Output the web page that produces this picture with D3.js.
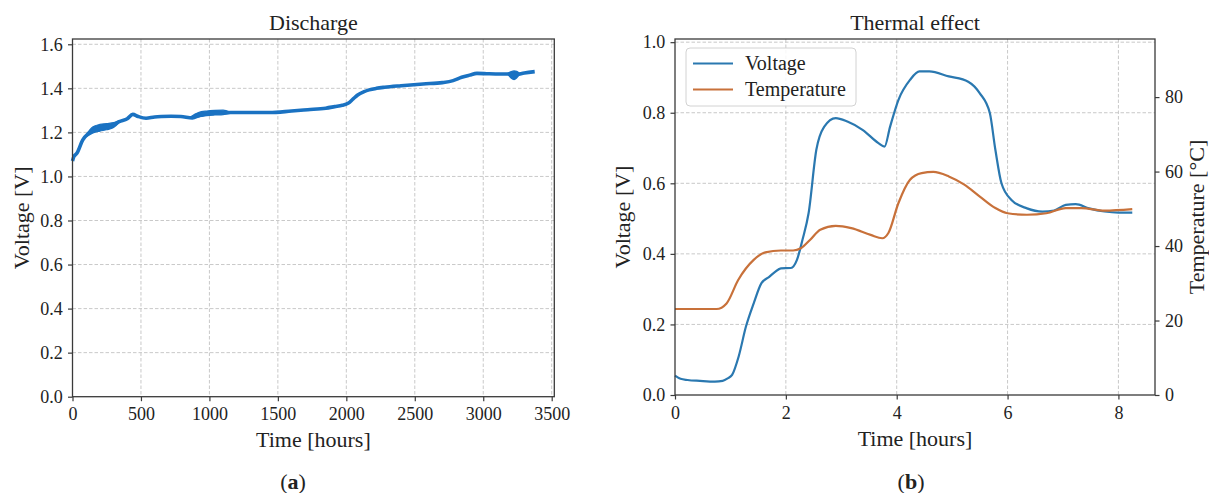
<!DOCTYPE html>
<html>
<head>
<meta charset="utf-8">
<script src="https://cdn.jsdelivr.net/npm/d3@7"></script>
<style>
  html, body { margin: 0; padding: 0; background: #fff; }
  svg { display: block; }
  text { font-family: "Liberation Serif", "DejaVu Serif", serif; fill: #222; }
</style>
</head>
<body>
<svg id="chart" width="1209" height="493"></svg>
<script>
// ---------- DATA ----------
// (a) Discharge
const dischargeTime    = [0, 10, 33, 74, 117, 160, 201, 257, 300, 341, 400, 440, 480, 537, 600, 648, 720, 791, 875, 930, 988, 1060, 1156, 1300, 1437, 1600, 1718, 1850, 1915, 1970, 2013, 2050, 2083, 2130, 2167, 2220, 2280, 2400, 2561, 2701, 2780, 2842, 2900, 2954, 3040, 3123, 3200, 3235, 3300, 3376];
const dischargeVoltage = [1.07, 1.09, 1.106, 1.165, 1.196, 1.21, 1.218, 1.226, 1.235, 1.249, 1.262, 1.282, 1.272, 1.264, 1.27, 1.272, 1.273, 1.272, 1.265, 1.278, 1.287, 1.288, 1.29, 1.29, 1.29, 1.297, 1.303, 1.31, 1.317, 1.323, 1.332, 1.352, 1.37, 1.385, 1.393, 1.4, 1.405, 1.412, 1.42, 1.426, 1.435, 1.45, 1.46, 1.468, 1.466, 1.465, 1.465, 1.462, 1.47, 1.476];
// noisy envelopes of the discharge trace
const noise1T  = [100, 150, 200, 250, 300, 340];
const noise1Lo = [1.18, 1.198, 1.206, 1.212, 1.222, 1.245];
const noise1Hi = [1.19, 1.226, 1.236, 1.24, 1.244, 1.252];
const noise2T  = [860, 920, 980, 1040, 1100, 1150];
const noise2Lo = [1.265, 1.27, 1.276, 1.279, 1.281, 1.286];
const noise2Hi = [1.27, 1.29, 1.297, 1.3, 1.301, 1.292];
const noise3T  = [3180, 3205, 3225, 3245, 3265];
const noise3Lo = [1.463, 1.446, 1.44, 1.448, 1.463];
const noise3Hi = [1.468, 1.476, 1.479, 1.477, 1.469];

// (b) Thermal effect
const thermalTime  = [0, 0.1, 0.225, 0.45, 0.72, 0.86, 0.95, 1.03, 1.15, 1.28, 1.42, 1.56, 1.7, 1.8, 1.91, 2.09, 2.2, 2.3, 2.41, 2.55, 2.69, 2.9, 3.11, 3.39, 3.67, 3.78, 3.88, 4.03, 4.24, 4.41, 4.59, 4.94, 5.29, 5.5, 5.68, 5.78, 5.89, 6.07, 6.35, 6.63, 6.84, 7.05, 7.23, 7.47, 7.75, 8.0, 8.25];
const voltageB     = [0.055, 0.046, 0.0425, 0.04, 0.038, 0.04, 0.047, 0.057, 0.11, 0.194, 0.26, 0.317, 0.335, 0.348, 0.359, 0.36, 0.383, 0.44, 0.515, 0.695, 0.76, 0.785, 0.775, 0.751, 0.714, 0.704, 0.76, 0.836, 0.893, 0.917, 0.917, 0.903, 0.888, 0.855, 0.799, 0.695, 0.6, 0.553, 0.529, 0.52, 0.523, 0.539, 0.541, 0.529, 0.52, 0.517, 0.517];
const tempTime     = [0, 0.4, 0.75, 0.93, 1.14, 1.42, 1.63, 1.91, 2.13, 2.27, 2.44, 2.62, 2.9, 3.18, 3.53, 3.74, 3.85, 4.03, 4.24, 4.45, 4.66, 4.94, 5.22, 5.5, 5.78, 6.0, 6.35, 6.7, 7.05, 7.33, 7.75, 8.25];
const temperature  = [23.1, 23.1, 23.1, 24.6, 30.9, 36.3, 38.3, 38.8, 38.8, 39.4, 41.7, 44.4, 45.4, 44.8, 43.0, 42.1, 43.5, 51.5, 57.8, 59.6, 59.9, 58.7, 56.5, 53.3, 50.2, 48.8, 48.4, 48.8, 50.2, 50.2, 49.5, 49.9];

const xTicksA = [0, 500, 1000, 1500, 2000, 2500, 3000, 3500];
const yTicksA = [0, 0.2, 0.4, 0.6, 0.8, 1.0, 1.2, 1.4, 1.6];
const xTicksB = [0, 2, 4, 6, 8];
const yTicksB = [0, 0.2, 0.4, 0.6, 0.8, 1.0];
const tTicksB = [0, 20, 40, 60, 80];
const seriesNames = ["Voltage", "Temperature"];

// ---------- DRAW ----------
const SERIF = '"Liberation Serif", "DejaVu Serif", serif';
const svg = d3.select("#chart");
const FONT_TICK = 18, FONT_LABEL = 22;
const frameColor = "#3a3a3a", gridColor = "#c9c9c9";
const blueA = "#1a72c2", blueB = "#2a78b0", orangeB = "#c8713a";

function panel(cfg) {
  const g = svg.append("g");
  const x = d3.scaleLinear().domain(cfg.xDomain).range([cfg.left, cfg.right]);
  const y = d3.scaleLinear().domain(cfg.yDomain).range([cfg.bottom, cfg.top]);
  g.append("g").selectAll("line").data(cfg.xTicks.filter(d => d > 0)).join("line")
    .attr("x1", d => x(d)).attr("x2", d => x(d)).attr("y1", cfg.top).attr("y2", cfg.bottom)
    .attr("stroke", gridColor).attr("stroke-width", 1).attr("stroke-dasharray", "3.5,2");
  g.append("g").selectAll("line").data(cfg.yTicks.filter(d => d > 0)).join("line")
    .attr("x1", cfg.left).attr("x2", cfg.right).attr("y1", d => y(d)).attr("y2", d => y(d))
    .attr("stroke", gridColor).attr("stroke-width", 1).attr("stroke-dasharray", "3.5,2");
  return { g, x, y };
}

function styleAxis(sel) {
  sel.attr("font-family", SERIF).attr("font-size", FONT_TICK);
  sel.select(".domain").remove();
  sel.selectAll(".tick line").attr("stroke", frameColor).attr("stroke-width", 1.2);
  sel.selectAll(".tick text").style("font-family", SERIF)
    .style("font-size", FONT_TICK + "px").attr("fill", "#222");
}

// ---- Panel (a)
const A = { left: 72.5, right: 554.3, top: 39, bottom: 396.7, xDomain: [0, 3519], yDomain: [0, 1.624], xTicks: xTicksA, yTicks: yTicksA };
const pa = panel(A);

const area = d3.area().x(d => pa.x(d[0])).y0(d => pa.y(d[1])).y1(d => pa.y(d[2])).curve(d3.curveMonotoneX);
[[noise1T, noise1Lo, noise1Hi], [noise2T, noise2Lo, noise2Hi], [noise3T, noise3Lo, noise3Hi]].forEach(([t, lo, hi]) => {
  pa.g.append("path").datum(t.map((d, i) => [d, lo[i], hi[i]]))
    .attr("d", area).attr("fill", blueA).attr("stroke", blueA).attr("stroke-width", 1.2);
});
pa.g.append("path")
  .datum(dischargeTime.map((d, i) => [d, dischargeVoltage[i]]))
  .attr("d", d3.line().x(d => pa.x(d[0])).y(d => pa.y(d[1])).curve(d3.curveMonotoneX))
  .attr("fill", "none").attr("stroke", blueA).attr("stroke-width", 3.6).attr("stroke-linejoin", "round");

pa.g.append("rect").attr("x", A.left).attr("y", A.top).attr("width", A.right - A.left).attr("height", A.bottom - A.top)
  .attr("fill", "none").attr("stroke", frameColor).attr("stroke-width", 1.3);

pa.g.append("g").attr("transform", `translate(0,${A.bottom})`)
  .call(d3.axisBottom(pa.x).tickValues(xTicksA).tickFormat(d3.format("d")).tickSize(4.5).tickPadding(6.5)).call(styleAxis);
pa.g.append("g").attr("transform", `translate(${A.left},0)`)
  .call(d3.axisLeft(pa.y).tickValues(yTicksA).tickFormat(d3.format(".1f")).tickSize(4.5).tickPadding(5.3)).call(styleAxis);

svg.append("text").attr("x", (A.left + A.right) / 2).attr("y", 30).attr("text-anchor", "middle")
  .style("font-size", FONT_LABEL + "px").text("Discharge");
svg.append("text").attr("x", (A.left + A.right) / 2).attr("y", 447).attr("text-anchor", "middle")
  .style("font-size", FONT_LABEL + "px").text("Time [hours]");
svg.append("text").attr("transform", `translate(29,${(A.top + A.bottom) / 2}) rotate(-90)`).attr("text-anchor", "middle")
  .style("font-size", FONT_LABEL + "px").text("Voltage [V]");

// ---- Panel (b)
const B = { left: 675, right: 1155, top: 39, bottom: 395, xDomain: [0, 8.66], yDomain: [0, 1.009], xTicks: xTicksB, yTicks: yTicksB };
const pb = panel(B);
const yT = d3.scaleLinear().domain([0, 95.6]).range([B.bottom, B.top]);

pb.g.append("path")
  .datum(thermalTime.map((d, i) => [d, voltageB[i]]))
  .attr("d", d3.line().x(d => pb.x(d[0])).y(d => pb.y(d[1])).curve(d3.curveMonotoneX))
  .attr("fill", "none").attr("stroke", blueB).attr("stroke-width", 2.2);
pb.g.append("path")
  .datum(tempTime.map((d, i) => [d, temperature[i]]))
  .attr("d", d3.line().x(d => pb.x(d[0])).y(d => yT(d[1])).curve(d3.curveMonotoneX))
  .attr("fill", "none").attr("stroke", orangeB).attr("stroke-width", 2.2);

pb.g.append("rect").attr("x", B.left).attr("y", B.top).attr("width", B.right - B.left).attr("height", B.bottom - B.top)
  .attr("fill", "none").attr("stroke", frameColor).attr("stroke-width", 1.3);

pb.g.append("g").attr("transform", `translate(0,${B.bottom})`)
  .call(d3.axisBottom(pb.x).tickValues(xTicksB).tickFormat(d3.format("d")).tickSize(4.5).tickPadding(6.5)).call(styleAxis);
pb.g.append("g").attr("transform", `translate(${B.left},0)`)
  .call(d3.axisLeft(pb.y).tickValues(yTicksB).tickFormat(d3.format(".1f")).tickSize(4.5).tickPadding(5.3)).call(styleAxis);
pb.g.append("g").attr("transform", `translate(${B.right},0)`)
  .call(d3.axisRight(yT).tickValues(tTicksB).tickFormat(d3.format("d")).tickSize(4.5).tickPadding(5.5)).call(styleAxis);

// legend
const lg = pb.g.append("g");
lg.append("rect").attr("x", 686).attr("y", 48).attr("width", 170).attr("height", 58).attr("rx", 4)
  .attr("fill", "#fff").attr("fill-opacity", 0.85).attr("stroke", "#d2d2d2").attr("stroke-width", 1);
[blueB, orangeB].forEach((c, i) => {
  const yy = 63.5 + i * 26;
  lg.append("line").attr("x1", 693).attr("x2", 733).attr("y1", yy).attr("y2", yy)
    .attr("stroke", c).attr("stroke-width", 2.2);
  lg.append("text").attr("x", 745).attr("y", yy + 6).style("font-size", "20px").text(seriesNames[i]);
});

svg.append("text").attr("x", (B.left + B.right) / 2).attr("y", 30).attr("text-anchor", "middle")
  .style("font-size", FONT_LABEL + "px").text("Thermal effect");
svg.append("text").attr("x", (B.left + B.right) / 2).attr("y", 446).attr("text-anchor", "middle")
  .style("font-size", FONT_LABEL + "px").text("Time [hours]");
svg.append("text").attr("transform", `translate(630,${(B.top + B.bottom) / 2}) rotate(-90)`).attr("text-anchor", "middle")
  .style("font-size", FONT_LABEL + "px").text("Voltage [V]");
svg.append("text").attr("transform", `translate(1204,${(B.top + B.bottom) / 2}) rotate(-90)`).attr("text-anchor", "middle")
  .style("font-size", FONT_LABEL + "px").text("Temperature [°C]");

function subLabel(cx, letter) {
  const t = svg.append("text").attr("x", cx).attr("y", 489).attr("text-anchor", "middle").style("font-size", "22px");
  t.append("tspan").text("(");
  t.append("tspan").style("font-weight", "bold").text(letter);
  t.append("tspan").text(")");
}
subLabel(293, "a");
subLabel(911, "b");
</script>
</body>
</html>
